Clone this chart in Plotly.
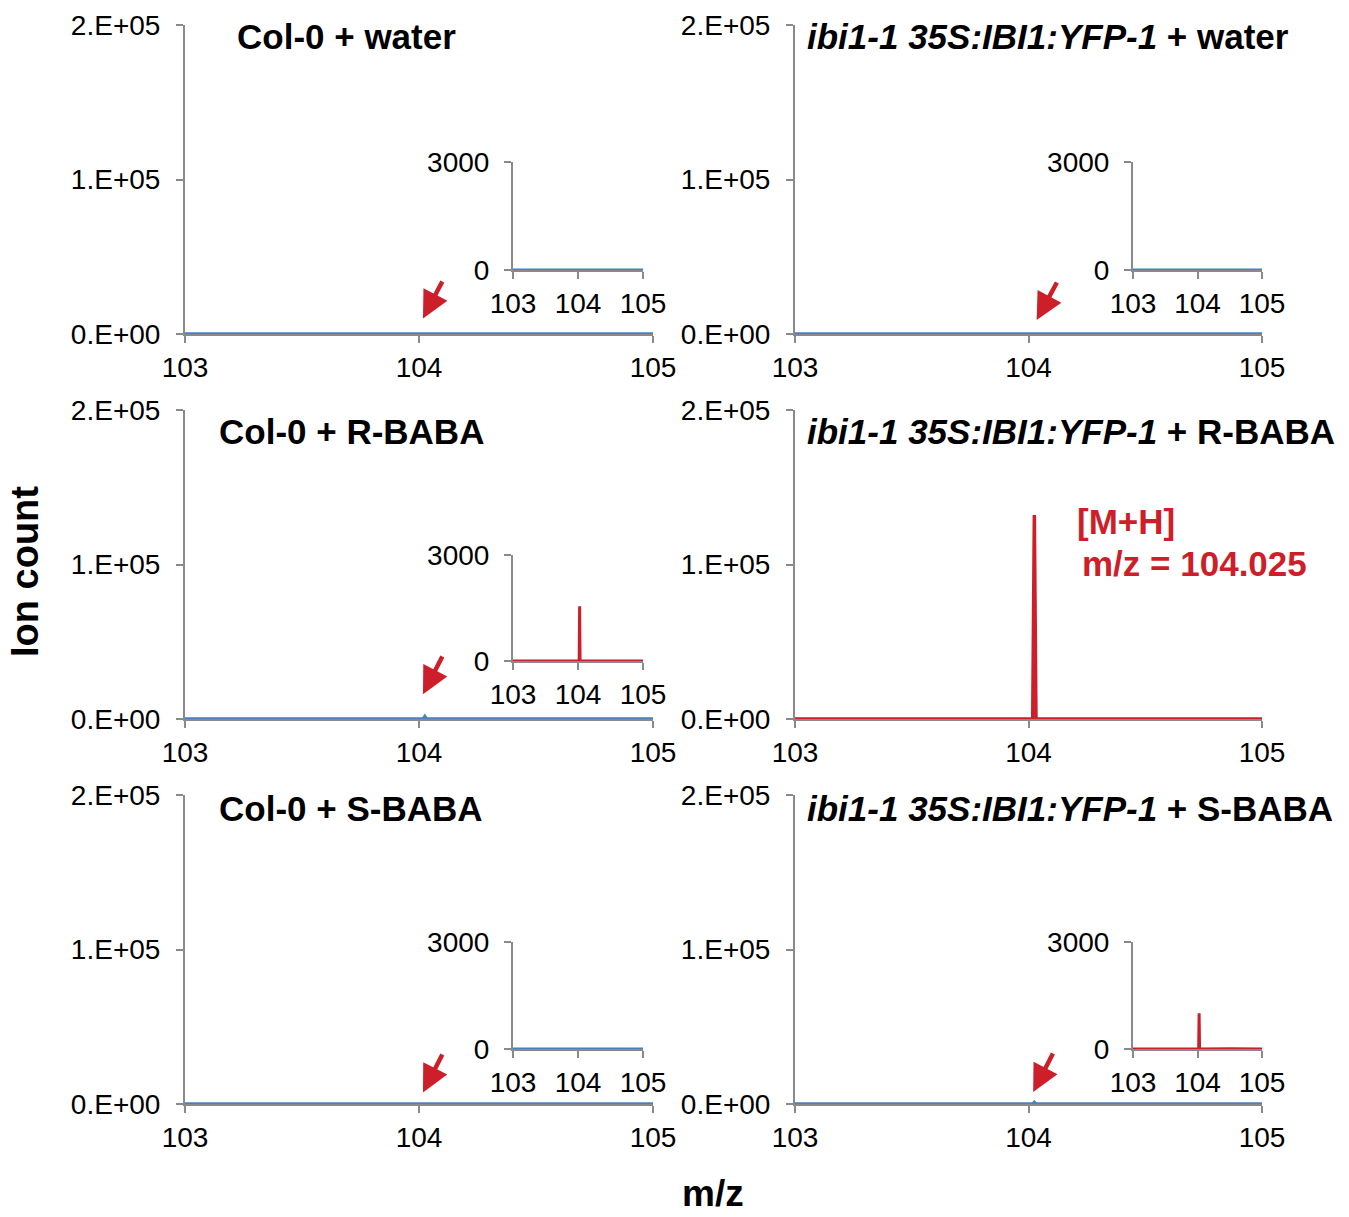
import plotly.graph_objects as go

W, H = 1349, 1217

# ---------------- data ----------------
mz = [103.0, 103.5, 104.0, 104.018, 104.025, 104.032, 104.5, 105.0]
col0_water = [0, 0, 0, 0, 0, 0, 0, 0]
col0_rbaba = [0, 0, 0, 0, 1550, 0, 0, 0]
col0_sbaba = [0, 0, 0, 0, 0, 0, 0, 0]
ibi1_water = [0, 0, 0, 0, 0, 0, 0, 0]
ibi1_rbaba = [0, 0, 0, 0, 132000, 0, 0, 0]
ibi1_sbaba = [0, 10, 0, 0, 1000, 0, 10, 0]

main_yticks = [0, 100000, 200000]
main_yticklabels = ["0.E+00", "1.E+05", "2.E+05"]
inset_yticks = [0, 3000]
inset_yticklabels = ["0", "3000"]
xticks = [103, 104, 105]
xticklabels = ["103", "104", "105"]

BLUE = "#4a7fc1"
RED = "#cc1f2a"
GRAY = "#8a8a8a"
FONT = "Liberation Sans"

def fx(px):
    return px / W

def fy(py):
    return 1 - py / H

# panel pixel geometry
cols_main = [(185, 653), (795, 1262)]
rows_main = [(25, 334), (410, 719), (795, 1104)]
cols_inset = [(513, 643), (1133, 1262)]
rows_inset = [(162, 270), (555, 661), (942, 1049)]

panels = [
    (0, 0, "<b>Col-0 + water</b>", col0_water, BLUE, col0_water, BLUE),
    (0, 1, "<b><i>ibi1-1 35S:IBI1:YFP-1</i> + water</b>", ibi1_water, BLUE, ibi1_water, BLUE),
    (1, 0, "<b>Col-0 + R-BABA</b>", col0_rbaba, BLUE, col0_rbaba, RED),
    (1, 1, "<b><i>ibi1-1 35S:IBI1:YFP-1</i> + R-BABA</b>", ibi1_rbaba, RED, None, None),
    (2, 0, "<b>Col-0 + S-BABA</b>", col0_sbaba, BLUE, col0_sbaba, BLUE),
    (2, 1, "<b><i>ibi1-1 35S:IBI1:YFP-1</i> + S-BABA</b>", ibi1_sbaba, BLUE, ibi1_sbaba, RED),
]
title_pos = {
    (0, 0): (235, 36), (0, 1): (805, 36),
    (1, 0): (217, 431), (1, 1): (805, 431),
    (2, 0): (217, 808), (2, 1): (805, 808),
}
arrows = {
    (0, 0): (104.017, 10000, 104.103, 35000),
    (0, 1): (104.035, 9000, 104.125, 34300),
    (1, 0): (104.017, 16000, 104.103, 41400),
    (2, 0): (104.017, 7500, 104.103, 33000),
    (2, 1): (104.02, 7800, 104.108, 33600),
}

fig = go.Figure()
layout = dict(
    width=W, height=H, margin=dict(l=0, r=0, t=0, b=0, autoexpand=False),
    paper_bgcolor="white", plot_bgcolor="rgba(0,0,0,0)",
    showlegend=False, font=dict(family=FONT, color="black"),
)
annotations = []

def axis_common():
    return dict(showgrid=False, zeroline=False, showline=True, linecolor=GRAY,
                linewidth=2, ticks="outside", tickcolor=GRAY, tickwidth=2,
                ticklen=7, tickfont=dict(family=FONT, size=28, color="black"),
                fixedrange=True, automargin=False, layer="below traces")

idx = 0
for (r, c, title, main_y, main_col, inset_y, inset_col) in panels:
    idx += 1
    xl, xr = cols_main[c]
    yt, yb = rows_main[r]
    xa = axis_common()
    xa.update(domain=[fx(xl), fx(xr)], range=[103, 105], tickvals=xticks,
              ticktext=xticklabels, anchor=f"y{idx}", ticklabelstandoff=0)
    ya = axis_common()
    ya.update(domain=[fy(yb), fy(yt)], range=[0, 200000], tickvals=main_yticks,
              ticktext=main_yticklabels, anchor=f"x{idx}", ticklabelstandoff=10)
    layout[f"xaxis{idx}"] = xa
    layout[f"yaxis{idx}"] = ya
    fig.add_trace(go.Scatter(x=mz, y=main_y, mode="lines", cliponaxis=False,
                             line=dict(color=main_col, width=3.5),
                             xaxis=f"x{idx}", yaxis=f"y{idx}"))
    main_idx = idx
    tx, ty = title_pos[(r, c)]
    annotations.append(dict(text=title, x=fx(tx), y=fy(ty), xref="paper", yref="paper",
                            xanchor="left", yanchor="middle", showarrow=False,
                            font=dict(family=FONT, size=35, color="black")))
    if (r, c) in arrows:
        tmz, tyv, amz, ayv = arrows[(r, c)]
        annotations.append(dict(x=tmz, y=tyv, ax=amz, ay=ayv,
                                xref=f"x{main_idx}", yref=f"y{main_idx}",
                                axref=f"x{main_idx}", ayref=f"y{main_idx}",
                                showarrow=True, arrowhead=2, arrowsize=1.2,
                                arrowwidth=4.5, arrowcolor=RED, text=""))
    if inset_y is not None:
        idx += 1
        il, ir = cols_inset[c]
        it, ib = rows_inset[r]
        xa = axis_common()
        xa.update(domain=[fx(il), fx(ir)], range=[103, 105], tickvals=xticks,
                  ticktext=xticklabels, anchor=f"y{idx}", ticklabelstandoff=0)
        ya = axis_common()
        ya.update(domain=[fy(ib), fy(it)], range=[0, 3000], tickvals=inset_yticks,
                  ticktext=inset_yticklabels, anchor=f"x{idx}", ticklabelstandoff=9)
        layout[f"xaxis{idx}"] = xa
        layout[f"yaxis{idx}"] = ya
        fig.add_trace(go.Scatter(x=mz, y=inset_y, mode="lines", cliponaxis=False,
                                 line=dict(color=inset_col, width=3),
                                 xaxis=f"x{idx}", yaxis=f"y{idx}"))

annotations.append(dict(text="<b>[M+H]</b>", x=fx(1075), y=fy(522), xref="paper", yref="paper",
                        xanchor="left", yanchor="middle", showarrow=False,
                        font=dict(family=FONT, size=35, color=RED)))
annotations.append(dict(text="<b>m/z = 104.025</b>", x=fx(1080), y=fy(563), xref="paper", yref="paper",
                        xanchor="left", yanchor="middle", showarrow=False,
                        font=dict(family=FONT, size=35, color=RED)))
annotations.append(dict(text="<b>Ion count</b>", x=fx(25), y=fy(572), xref="paper", yref="paper",
                        xanchor="center", yanchor="middle", textangle=-90, showarrow=False,
                        font=dict(family=FONT, size=38, color="black")))
annotations.append(dict(text="<b>m/z</b>", x=fx(713), y=fy(1216), xref="paper", yref="paper",
                        xanchor="center", yanchor="bottom", showarrow=False,
                        font=dict(family=FONT, size=37, color="black")))

layout["annotations"] = annotations
fig.update_layout(**layout)
fig.write_html("out.html")
